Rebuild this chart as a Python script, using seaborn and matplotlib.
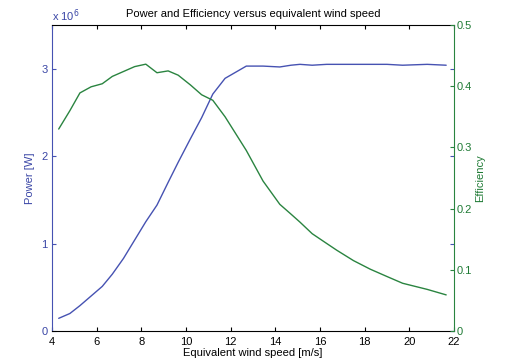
import matplotlib
matplotlib.use("Agg")
import matplotlib.pyplot as plt
import seaborn as sns
import pandas as pd

wind_speed = [4.3, 4.8, 5.25, 5.75, 6.25, 6.7, 7.2, 7.7, 8.2, 8.7, 9.2, 9.65, 10.2, 10.7,
              11.2, 11.75, 12.7, 13.45, 14.2, 14.7, 15.1, 15.65, 16.3, 16.75, 17.5, 18.25,
              19.0, 19.7, 20.8, 21.65]
power_mw = [0.145, 0.20, 0.29, 0.40, 0.51, 0.65, 0.83, 1.04, 1.25, 1.44, 1.70, 1.93, 2.20, 2.44,
            2.71, 2.89, 3.03, 3.03, 3.02, 3.04, 3.05, 3.04, 3.05, 3.05, 3.05, 3.05,
            3.05, 3.04, 3.05, 3.04]
efficiency = [0.330, 0.360, 0.389, 0.399, 0.404, 0.416, 0.424, 0.432, 0.436, 0.422, 0.425, 0.418,
              0.402, 0.386, 0.377, 0.350, 0.295, 0.245, 0.207, 0.191, 0.178, 0.159, 0.143, 0.132,
              0.115, 0.101, 0.089, 0.078, 0.068, 0.059]
x_ticks = [4, 6, 8, 10, 12, 14, 16, 18, 20, 22]
left_ticks = [0, 1, 2, 3]
right_ticks = [0, 0.1, 0.2, 0.3, 0.4, 0.5]

df = pd.DataFrame({"ws": wind_speed, "p": [v * 1e6 for v in power_mw], "eff": efficiency})

sns.set_theme(style="white")
plt.rcParams["font.family"] = ["Liberation Sans", "DejaVu Sans"]

BLUE = "#4652b2"
BLUE_T = "#3a46a6"
GREEN = "#2a8440"
GREEN_T = "#1e7a34"

fig = plt.figure(figsize=(5.12, 3.64), dpi=100)
ax1 = fig.add_axes([52 / 512, 1 - 331 / 364, 402 / 512, 306 / 364])
ax2 = ax1.twinx()

sns.lineplot(data=df, x="ws", y="p", ax=ax1, color=BLUE, linewidth=1.0)
sns.lineplot(data=df, x="ws", y="eff", ax=ax2, color=GREEN, linewidth=1.0)

ax1.set_xlim(4, 22)
ax1.set_ylim(0, 3.5e6)
ax2.set_ylim(0, 0.5)
ax1.set_xticks(x_ticks)
ax1.set_xticklabels([str(t) for t in x_ticks], fontsize=8, color="black")
ax1.set_yticks([t * 1e6 for t in left_ticks])
ax1.set_yticklabels([str(t) for t in left_ticks], fontsize=8, color=BLUE_T)
ax2.set_yticks(right_ticks)
ax2.set_yticklabels(["0"] + [f"{t:.1f}" for t in right_ticks[1:]], fontsize=8, color=GREEN_T)

ax1.tick_params(axis="x", direction="in", length=3, width=0.8, top=True, bottom=True,
                colors="black", pad=4)
ax1.tick_params(axis="y", direction="in", length=3, width=0.8, left=True, right=True,
                colors=BLUE, labelcolor=BLUE_T, pad=3)
ax2.tick_params(axis="y", direction="in", length=3, width=0.8, right=True, left=False,
                colors=GREEN, labelcolor=GREEN_T, pad=2)

for s in ["top", "bottom"]:
    ax1.spines[s].set_color("black")
    ax1.spines[s].set_linewidth(0.8)
ax1.spines["left"].set_color(BLUE)
ax1.spines["left"].set_linewidth(0.8)
ax1.spines["right"].set_visible(False)
ax2.spines["right"].set_color(GREEN)
ax2.spines["right"].set_linewidth(0.8)
for s in ["left", "top", "bottom"]:
    ax2.spines[s].set_visible(False)

ax1.set_xlabel("Equivalent wind speed [m/s]", fontsize=8, color="black", labelpad=1)
ax1.set_ylabel("Power [W]", fontsize=8, color=BLUE_T, labelpad=5)
ax2.set_ylabel("Efficiency", fontsize=8, color=GREEN_T, labelpad=2)
ax1.set_title("Power and Efficiency versus equivalent wind speed", fontsize=8, color="black", pad=6)
ax1.grid(False)
ax2.grid(False)

fig.text(52 / 512, 1 - 16 / 364, r"x 10$^{6}$", fontsize=8, color=BLUE_T, ha="left", va="center")

fig.savefig("out.png", dpi=100, facecolor="white")
